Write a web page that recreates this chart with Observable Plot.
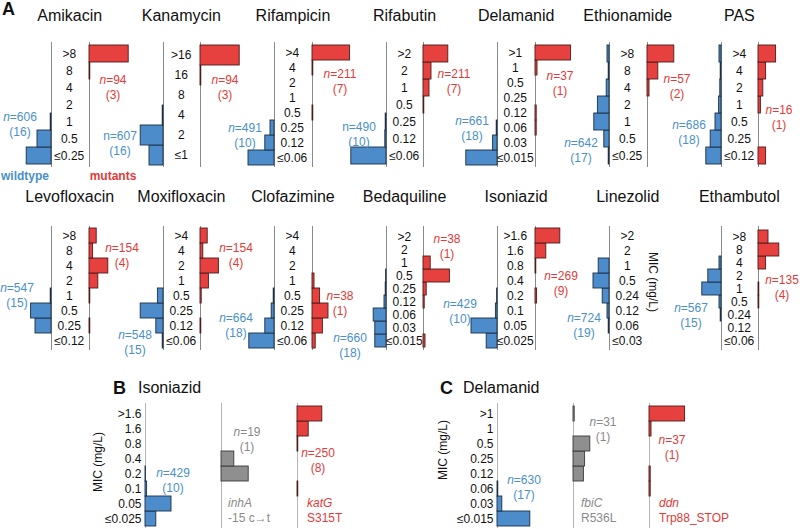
<!DOCTYPE html>
<html><head><meta charset="utf-8">
<script src="https://cdn.jsdelivr.net/npm/d3@7"></script>
<script src="https://cdn.jsdelivr.net/npm/@observablehq/plot@0.6"></script>
<style>
body{margin:0;background:#fff;}
#fig{position:relative;width:800px;height:529px;overflow:hidden;font-family:"Liberation Sans",Arial,Helvetica,sans-serif;color:#111;}
.t{position:absolute;white-space:nowrap;line-height:1;}
</style></head><body><div id="fig"></div>
<script>
// ---------- DATA (percent of isolates per MIC level, low -> high) ----------
const amikacinMIC = ["≤0.25","0.5","1","2","4","8",">8"];
const amikacinWT  = [62,35,2,0,0,0,0];
const amikacinMUT = [0,0,0,0,0,2,98];

const kanamycinMIC = ["≤1","2","4","8","16",">16"];
const kanamycinWT  = [35,57,2,0,0,0];
const kanamycinMUT = [0,0,0,0,2,98];

const rifampicinMIC = ["≤0.06","0.12","0.25","0.5","1","2","4",">4"];
const rifampicinWT  = [65,23,10,0,0,0,0,0];
const rifampicinMUT = [0,0,0,2,0,0,2,94];

const rifabutinMIC = ["≤0.06","0.12","0.25","0.5","1","2",">2"];
const rifabutinWT  = [88,3,2,0,0,0,0];
const rifabutinMUT = [0,0,0,2,15,20,62];

const delamanidMIC = ["≤0.015","0.03","0.06","0.12","0.25","0.5","1",">1"];
const delamanidWT  = [78,11,2,0,0,0,0,0];
const delamanidMUT = [0,0,3,3,0,0,5,89];

const ethionamideMIC = ["≤0.25","0.5","1","2","4","8",">8"];
const ethionamideWT  = [2,13,38,29,7,2,5];
const ethionamideMUT = [0,0,0,0,5,27,67];

const pasMIC = ["≤0.12","0.25","0.5","1","2","4",">4"];
const pasWT  = [38,27,15,6,3,2,5];
const pasMUT = [19,0,0,6,12,19,44];

const levofloxacinMIC = ["≤0.12","0.25","0.5","1","2","4","8",">8"];
const levofloxacinWT  = [0,40,51,2,0,0,0,0];
const levofloxacinMUT = [0,2,0,2,22,47,9,18];

const moxifloxacinMIC = ["≤0.06","0.12","0.25","0.5","1","2","4",">4"];
const moxifloxacinWT  = [2,18,57,14,0,0,0,0];
const moxifloxacinMUT = [0,2,0,3,21,46,7,18];

const clofazimineMIC = ["≤0.06","0.12","0.25","0.5","1","2","4",">4"];
const clofazimineWT  = [63,23,7,2,0,0,0,0];
const clofazimineMUT = [8,26,40,19,5,0,0,0];

const bedaquilineMIC = ["≤0.015","0.03","0.06","0.12","0.25","0.5","1","2",">2"];
const bedaquilineWT  = [28,28,32,5,2,1,0,0,0];
const bedaquilineMUT = [5,0,0,3,8,66,18,0,0];

const isoniazidMIC = ["≤0.025","0.05","0.1","0.2","0.4","0.8","1.6",">1.6"];
const isoniazidWT  = [27,65,4,1,0,0,0,0];
const isoniazidMUT = [0,0,0,4,0,2,27,62];

const linezolidMIC = ["≤0.03","0.06","0.12","0.24","0.5","1","2",">2"];
const linezolidWT  = [0,2,5,17,40,27,0,0];

const ethambutolMIC = ["≤0.06","0.12","0.24","0.5","1","2","4","8",">8"];
const ethambutolWT  = [0,0,2,5,48,33,5,0,0];
const ethambutolMUT = [0,0,0,2,2,0,19,52,25];

// panel B (isoniazid) and C (delamanid)
const inhA_WT    = isoniazidWT;
const inhA_MUT   = [0,0,0,68,32,0,0,0];
const katG_MUT   = [0,0,2,0,0,2,28,62];
const delamanidC_WT = [82,12,2,0,0,0,0,0];
const fbiC_MUT   = [0,0,0,26,29,42,0,3];
const ddn_MUT    = [0,0,3,3,0,0,5,89];

// counts: isolates (studies)
const row1Drugs = ["Amikacin","Kanamycin","Rifampicin","Rifabutin","Delamanid","Ethionamide","PAS"];
const row1WtN   = ["606","607","491","490","661","642","686"];
const row1WtK   = ["16","16","10","10","18","17","18"];
const row1MutN  = ["94","94","211","211","37","57","16"];
const row1MutK  = ["3","3","7","7","1","2","1"];
const row2Drugs = ["Levofloxacin","Moxifloxacin","Clofazimine","Bedaquiline","Isoniazid","Linezolid","Ethambutol"];
const row2WtN   = ["547","548","664","660","429","724","567"];
const row2WtK   = ["15","15","18","18","10","19","15"];
const row2MutN  = ["154","154","38","38","269",null,"135"];
const row2MutK  = ["4","4","1","1","9",null,"4"];
const panelBN = ["429","19","250"], panelBK = ["10","1","8"];
const panelCN = ["630","31","37"], panelCK = ["17","1","1"];

// ---------- DRAWING ----------
const fig = document.getElementById("fig");
const BLUE = "#4c8cca", RED = "#e6403f", GRAY = "#8f8f8f";
const BLUE_T = "#4a90c9", RED_T = "#e23a3a", GRAY_T = "#8a8a8a";
const SCALE = 40, PAD = 6;
const FONT = '"Liberation Sans",Arial,Helvetica,sans-serif';

function hist({levels, values, lineX, top, height, dir, fill, stroke, labels, labelW, lineColor}) {
  const data = levels.map((l, i) => ({level: l, value: values[i]})).filter(d => d.value > 0);
  const domain = levels.slice().reverse();
  let width, left, xRange, marks = [], mL, mR;
  if (dir === "left") {
    mL = 0; mR = labels ? labelW : PAD;
    width = PAD + SCALE + mR;
    xRange = [PAD + SCALE, PAD];
    left = lineX - PAD - SCALE;
  } else {
    mL = labels ? labelW : PAD; mR = PAD;
    width = mL + SCALE + PAD;
    xRange = [mL, mL + SCALE];
    left = lineX - mL;
  }
  marks.push(Plot.ruleX([0], {stroke: lineColor, strokeWidth: 1}));
  marks.push(Plot.barX(data, {x: "value", y: "level", fill, stroke, strokeWidth: 0.9}));
  if (labels) {
    if (dir === "left") {
      marks.push(Plot.axisY({anchor: "right", tickSize: 0, tickPadding: labelW / 2 - 1, textAnchor: "middle", fontSize: 12, label: null}));
    } else {
      marks.push(Plot.axisY({anchor: "left", tickSize: 0, tickPadding: 4, fontSize: 12, label: null}));
    }
  }
  const p = Plot.plot({
    width, height: height + 4,
    marginTop: 2, marginBottom: 2, marginLeft: mL, marginRight: mR,
    x: {domain: [0, 100], range: xRange, axis: null},
    y: {type: "band", domain, padding: 0, axis: labels ? undefined : null, label: null},
    marks,
    style: {position: "absolute", left: left + "px", top: (top - 2) + "px", overflow: "visible",
            fontFamily: FONT, fontSize: "12px", color: "#111", background: "transparent"}
  });
  fig.appendChild(p);
}

function txt(html, x, y, {anchor = "middle", color = "#111", size = 12, weight = "normal", italic = false, rotate = 0} = {}) {
  const d = document.createElement("div");
  d.className = "t";
  d.innerHTML = html;
  const tx = anchor === "start" ? "0" : anchor === "end" ? "-100%" : "-50%";
  d.style.left = x + "px"; d.style.top = y + "px";
  d.style.transform = `translate(${tx},-50%)` + (rotate ? ` rotate(${rotate}deg)` : "");
  d.style.color = color; d.style.fontSize = size + "px"; d.style.fontWeight = weight;
  if (italic) d.style.fontStyle = "italic";
  fig.appendChild(d);
}
function nLabel(n, k, x, y, color, italicN = true) {
  txt((italicN ? "<i>n</i>" : "n") + "=" + n, x, y, {color});
  txt("(" + k + ")", x, y + 15, {color});
}

// Panel A
const row1 = [
  [amikacinMIC, amikacinWT, amikacinMUT],
  [kanamycinMIC, kanamycinWT, kanamycinMUT],
  [rifampicinMIC, rifampicinWT, rifampicinMUT],
  [rifabutinMIC, rifabutinWT, rifabutinMUT],
  [delamanidMIC, delamanidWT, delamanidMUT],
  [ethionamideMIC, ethionamideWT, ethionamideMUT],
  [pasMIC, pasWT, pasMUT]
];
const row2 = [
  [levofloxacinMIC, levofloxacinWT, levofloxacinMUT],
  [moxifloxacinMIC, moxifloxacinWT, moxifloxacinMUT],
  [clofazimineMIC, clofazimineWT, clofazimineMUT],
  [bedaquilineMIC, bedaquilineWT, bedaquilineMUT],
  [isoniazidMIC, isoniazidWT, isoniazidMUT],
  [linezolidMIC, linezolidWT, null],
  [ethambutolMIC, ethambutolWT, ethambutolMUT]
];
const STEP = 111.6, LW = 37.5;
const A_STROKE_B = "#1c2f45", A_STROKE_R = "#4d1b1b", LINE_A = "#8a8a8a";

function drawRow(rows, top, height) {
  rows.forEach(([mic, wt, mut], i) => {
    const wx = 51 + i * STEP;
    hist({levels: mic, values: wt, lineX: wx, top, height, dir: "left", fill: BLUE, stroke: A_STROKE_B, labels: true, labelW: LW, lineColor: LINE_A});
    if (mut) hist({levels: mic, values: mut, lineX: wx + LW, top, height, dir: "right", fill: RED, stroke: A_STROKE_R, labels: false, lineColor: LINE_A});
  });
}
drawRow(row1, 42, 125);
drawRow(row2, 226, 124);

// titles
row1Drugs.forEach((d, i) => txt(d, 51 + i * STEP + LW / 2, 16, {size: 16}));
row2Drugs.forEach((d, i) => txt(d, 51 + i * STEP + LW / 2, 197, {size: 16}));
txt("A", 2, 9, {anchor: "start", size: 18, weight: "bold"});

// counts row 1
const r1wt = [[20,117],[120,136],[245,128],[359,127],[472,121],[581,143],[689,125]];
const r1mt = [[113,80],[225,80],[340,74],[454,74],[560,76],[677,79],[779,110]];
const r1ital = [true,false,true,false,true,true,true];
row1Drugs.forEach((d, i) => {
  nLabel(row1WtN[i], row1WtK[i], r1wt[i][0], r1wt[i][1], BLUE_T, r1ital[i]);
  nLabel(row1MutN[i], row1MutK[i], r1mt[i][0], r1mt[i][1], RED_T);
});
txt("wildtype", 25, 176, {color: BLUE_T, weight: "bold"});
txt("mutants", 113, 176, {color: RED_T, weight: "bold"});

// counts row 2
const r2wt = [[17,288],[135,335],[236,318],[350,338],[460,304],[584,318],[691,308]];
const r2mt = [[122,248],[236,248],[340,296],[447,239],[561,276],null,[782,280]];
row2Drugs.forEach((d, i) => {
  nLabel(row2WtN[i], row2WtK[i], r2wt[i][0], r2wt[i][1], BLUE_T);
  if (r2mt[i]) nLabel(row2MutN[i], row2MutK[i], r2mt[i][0], r2mt[i][1], RED_T);
});
txt("MIC (mg/L)", 653, 282, {rotate: 90});

// Panel B
const LINE_B = "#b5b5b5";
txt("B", 113, 388, {anchor: "start", size: 18, weight: "bold"});
txt("Isoniazid", 138, 388, {anchor: "start", size: 16});
hist({levels: isoniazidMIC, values: inhA_WT, lineX: 145, top: 403, height: 125, dir: "right", fill: BLUE, stroke: A_STROKE_B, labels: true, labelW: 50, lineColor: LINE_B});
hist({levels: isoniazidMIC, values: inhA_MUT, lineX: 221, top: 403, height: 125, dir: "right", fill: GRAY, stroke: "#3a3a3a", labels: false, lineColor: LINE_B});
hist({levels: isoniazidMIC, values: katG_MUT, lineX: 297, top: 403, height: 125, dir: "right", fill: RED, stroke: A_STROKE_R, labels: false, lineColor: LINE_B});
txt("MIC (mg/L)", 98, 462, {rotate: -90});
nLabel(panelBN[0], panelBK[0], 173, 473, BLUE_T);
nLabel(panelBN[1], panelBK[1], 247, 432, GRAY_T);
nLabel(panelBN[2], panelBK[2], 318, 453, RED_T);
txt("inhA", 228, 503, {anchor: "start", color: GRAY_T, italic: true});
txt("-15 c→t", 228, 518, {anchor: "start", color: GRAY_T});
txt("katG", 307, 503, {anchor: "start", color: RED_T, italic: true});
txt("S315T", 307, 518, {anchor: "start", color: RED_T});

// Panel C
txt("C", 440, 388, {anchor: "start", size: 18, weight: "bold"});
txt("Delamanid", 463, 388, {anchor: "start", size: 16});
hist({levels: delamanidMIC, values: delamanidC_WT, lineX: 497, top: 403, height: 125, dir: "right", fill: BLUE, stroke: A_STROKE_B, labels: true, labelW: 50, lineColor: LINE_B});
hist({levels: delamanidMIC, values: fbiC_MUT, lineX: 573, top: 403, height: 125, dir: "right", fill: GRAY, stroke: "#3a3a3a", labels: false, lineColor: LINE_B});
hist({levels: delamanidMIC, values: ddn_MUT, lineX: 649, top: 403, height: 125, dir: "right", fill: RED, stroke: A_STROKE_R, labels: false, lineColor: LINE_B});
txt("MIC (mg/L)", 443, 450, {rotate: -90});
nLabel(panelCN[0], panelCK[0], 524, 480, BLUE_T);
nLabel(panelCN[1], panelCK[1], 603, 422, GRAY_T);
nLabel(panelCN[2], panelCK[2], 672, 440, RED_T);
txt("fbiC", 581, 503, {anchor: "start", color: GRAY_T, italic: true});
txt("R536L", 581, 518, {anchor: "start", color: GRAY_T});
txt("ddn", 659, 503, {anchor: "start", color: RED_T, italic: true});
txt("Trp88_STOP", 659, 518, {anchor: "start", color: RED_T});
</script></body></html>
